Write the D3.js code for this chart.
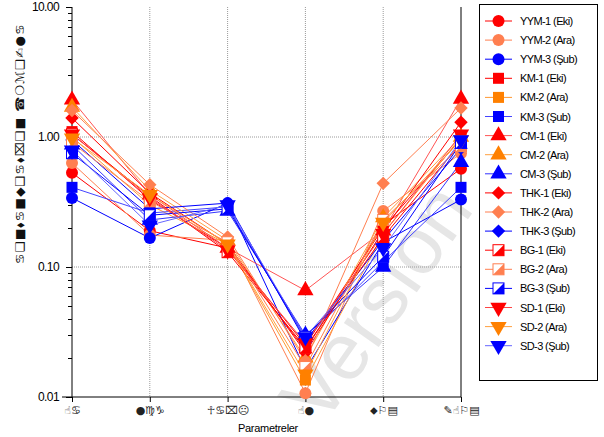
<!DOCTYPE html>
<html>
<head>
<meta charset="utf-8">
<script src="https://cdn.jsdelivr.net/npm/d3@7"></script>
<style>
  body { margin: 0; background: #fff; }
  svg { display: block; }
  text { font-family: "Liberation Sans", Arial, sans-serif; }
  .sym { font-family: "DejaVu Sans", sans-serif; }
</style>
</head>
<body>
<svg id="chart" width="604" height="437"></svg>
<script>
// categories (x tick labels as they show in the picture - symbol font)
var categories = ["☝♋", "●♍♑", "☥♋⌧☹", "☝●", "⬥⚐▤", "✎☝⚐▤"];
var yTicks = [0.01, 0.1, 1, 10];
var yTickLabels = ["0.01", "0.10", "1.00", "10.00"];
var yTitle = "♋❑■⬧♋■◆❑♋⬧⌧❑■  ☎❍ℳ❑✍●♋";
var xTitle = "Parametreler";

var seriesNames = ["YYM-1 (Eki)", "YYM-2 (Ara)", "YYM-3 (Şub)",
                   "KM-1 (Eki)", "KM-2 (Ara)", "KM-3 (Şub)",
                   "CM-1 (Eki)", "CM-2 (Ara)", "CM-3 (Şub)",
                   "THK-1 (Eki)", "THK-2 (Ara)", "THK-3 (Şub)",
                   "BG-1 (Eki)", "BG-2 (Ara)", "BG-3 (Şub)",
                   "SD-1 (Eki)", "SD-2 (Ara)", "SD-3  (Şub)"];

// values per series, one per category
var yym1 = [0.53, 0.19, 0.14, 0.023, 0.21, 0.57];
var yym2 = [0.63, 0.176, 0.16, 0.0107, 0.27, 0.75];
var yym3 = [0.34, 0.167, 0.31, 0.0162, 0.155, 0.33];
var km1  = [1.1, 0.33, 0.14, 0.025, 0.20, 0.97];
var km2  = [1.0, 0.30, 0.15, 0.0135, 0.18, 1.0];
var km3  = [0.41, 0.26, 0.29, 0.028, 0.11, 0.41];
var cm1  = [1.93, 0.36, 0.14, 0.066, 0.19, 1.96];
var cm2  = [1.7, 0.39, 0.16, 0.020, 0.24, 1.0];
var cm3  = [0.87, 0.23, 0.27, 0.030, 0.10, 0.64];
var thk1 = [1.4, 0.37, 0.15, 0.022, 0.19, 1.3];
var thk2 = [1.6, 0.43, 0.17, 0.019, 0.44, 1.67];
var thk3 = [0.95, 0.28, 0.31, 0.027, 0.16, 0.82];
var bg1  = [1.05, 0.35, 0.13, 0.024, 0.17, 0.9];
var bg2  = [0.9, 0.32, 0.155, 0.017, 0.23, 0.85];
var bg3  = [0.75, 0.25, 0.28, 0.029, 0.12, 0.9];
var sd1  = [1.05, 0.34, 0.135, 0.026, 0.18, 1.05];
var sd2  = [0.98, 0.36, 0.15, 0.015, 0.22, 0.95];
var sd3  = [0.79, 0.21, 0.30, 0.029, 0.14, 0.95];

var seriesValues = [yym1, yym2, yym3, km1, km2, km3, cm1, cm2, cm3,
                    thk1, thk2, thk3, bg1, bg2, bg3, sd1, sd2, sd3];

// colour / marker for each series
var markerColors = ["#ff0000", "#ff7f50", "#0000ff", "#ff0000", "#ff8000", "#0000ff",
                    "#ff0000", "#ff8000", "#0000ff", "#ff0000", "#ff7f50", "#0000ff",
                    "#ff0000", "#ff7f50", "#0000ff", "#ff0000", "#ff8000", "#0000ff"];
var lineColors   = ["#ff0000", "#ff7f50", "#0000ff", "#ff0000", "#ff9933", "#4444ff",
                    "#ff5555", "#ffa040", "#3333ff", "#ff0000", "#ff7f50", "#0000ff",
                    "#ff0000", "#ff7f50", "#0000ff", "#ff4444", "#ffa040", "#6666ff"];
var markerTypes = ["circle", "circle", "circle", "square", "square", "square",
                   "triangle", "triangle", "triangle", "diamond", "diamond", "diamond",
                   "half", "half", "half", "down", "down", "down"];

var svg = d3.select("#chart");

var x = d3.scalePoint().domain(d3.range(categories.length)).range([72, 461]);
var y = d3.scaleLog().domain([0.01, 10]).range([397, 7]);

// watermark
svg.append("text")
   .attr("transform", "translate(322,428) rotate(-55)")
   .attr("font-size", 80)
   .attr("fill", "#e6e6e6")
   .attr("font-family", "Liberation Sans, Arial, sans-serif")
   .text("Version");

// gridlines
var grid = svg.append("g");
grid.selectAll("line.h").data([0.1, 1]).enter().append("line")
    .attr("x1", 72).attr("x2", 461)
    .attr("y1", function(d){ return y(d); }).attr("y2", function(d){ return y(d); })
    .attr("stroke", "#9a9a9a").attr("stroke-width", 1).attr("stroke-dasharray", "1,1");
grid.selectAll("line.v").data([1, 2, 3, 4]).enter().append("line")
    .attr("x1", function(d){ return x(d); }).attr("x2", function(d){ return x(d); })
    .attr("y1", 7).attr("y2", 397)
    .attr("stroke", "#9a9a9a").attr("stroke-width", 1).attr("stroke-dasharray", "1,1");
svg.append("line").attr("x1", x(5)).attr("x2", x(5)).attr("y1", 7).attr("y2", 397)
   .attr("stroke", "#000");

// y axis
var yAxis = d3.axisLeft(y).tickValues(yTicks)
    .tickFormat(function(d, i){ return yTickLabels[i]; })
    .tickSize(6).tickPadding(7);
var ya = svg.append("g").attr("transform", "translate(72,0)").call(yAxis);
ya.select(".domain").attr("d", "M0,7V397");
ya.selectAll("text").attr("font-size", 12).attr("fill", "#000")
  .attr("font-family", "Liberation Sans, Arial, sans-serif").attr("letter-spacing", -0.6);

// minor ticks
var minor = [];
for (var e = -2; e < 1; e++) {
    for (var m = 2; m <= 9; m++) minor.push(m * Math.pow(10, e));
}
svg.append("g").selectAll("line").data(minor).enter().append("line")
   .attr("x1", 68).attr("x2", 72)
   .attr("y1", function(d){ return Math.round(y(d)) + 0.5; })
   .attr("y2", function(d){ return Math.round(y(d)) + 0.5; })
   .attr("stroke", "#000");

// x axis
var xAxis = d3.axisBottom(x).tickFormat(function(d){ return categories[d]; })
    .tickSize(5).tickPadding(4);
var xa = svg.append("g").attr("transform", "translate(0,397)").call(xAxis);
xa.select(".domain").attr("d", "M62,0H461");
xa.selectAll("text").attr("class", "sym").attr("font-size", 11).attr("fill", "#222");

svg.append("text").attr("x", 268).attr("y", 432).attr("text-anchor", "middle")
   .attr("font-size", 11).attr("letter-spacing", -0.3).text(xTitle);

svg.append("text").attr("class", "sym")
   .attr("transform", "translate(24,264) rotate(-90)")
   .attr("font-size", 12).attr("fill", "#111").attr("letter-spacing", 1.2)
   .text(yTitle);

// markers
function drawMarker(g, type, color, cx, cy) {
    if (type === "circle") {
        g.append("circle").attr("cx", cx).attr("cy", cy).attr("r", 6).attr("fill", color);
    } else if (type === "square") {
        g.append("rect").attr("x", cx - 5.5).attr("y", cy - 5.5)
         .attr("width", 11).attr("height", 11).attr("fill", color);
    } else if (type === "triangle" || type === "down") {
        g.append("path")
         .attr("d", d3.symbol().type(d3.symbolTriangle).size(115)())
         .attr("transform", "translate(" + cx + "," + cy + ")" + (type === "down" ? " rotate(180)" : ""))
         .attr("fill", color);
    } else if (type === "diamond") {
        g.append("path")
         .attr("d", d3.symbol().type(d3.symbolSquare).size(90)())
         .attr("transform", "translate(" + cx + "," + cy + ") rotate(45)")
         .attr("fill", color);
    } else if (type === "half") {
        g.append("rect").attr("x", cx - 5.5).attr("y", cy - 5.5)
         .attr("width", 11).attr("height", 11).attr("fill", "#fff")
         .attr("stroke", color).attr("stroke-width", 1);
        g.append("path")
         .attr("d", "M" + (cx + 5.5) + "," + (cy - 5.5) + "L" + (cx + 5.5) + "," + (cy + 5.5) +
                    "L" + (cx - 5.5) + "," + (cy + 5.5) + "Z")
         .attr("fill", color);
    }
}

var line = d3.line()
    .x(function(d, i){ return x(i); })
    .y(function(d){ return y(d); });

var plot = svg.append("g");
seriesValues.forEach(function(vals, s) {
    plot.append("path").datum(vals).attr("d", line)
        .attr("fill", "none").attr("stroke", lineColors[s]).attr("stroke-width", 1);
});
seriesValues.forEach(function(vals, s) {
    var g = plot.append("g");
    vals.forEach(function(v, i) {
        drawMarker(g, markerTypes[s], markerColors[s], x(i), y(v));
    });
});

// legend
var lg = svg.append("g");
lg.append("rect").attr("x", 479.5).attr("y", 4.5).attr("width", 118).attr("height", 376)
  .attr("fill", "#fff").attr("stroke", "#000");
seriesNames.forEach(function(name, s) {
    var ly = 21 + s * 19.1;
    lg.append("line").attr("x1", 485).attr("x2", 512).attr("y1", ly).attr("y2", ly)
      .attr("stroke", lineColors[s]);
    drawMarker(lg, markerTypes[s], markerColors[s], 498.5, ly);
    lg.append("text").attr("x", 520).attr("y", ly + 4).attr("font-size", 11)
      .attr("letter-spacing", -0.6).text(name);
});
</script>
</body>
</html>
